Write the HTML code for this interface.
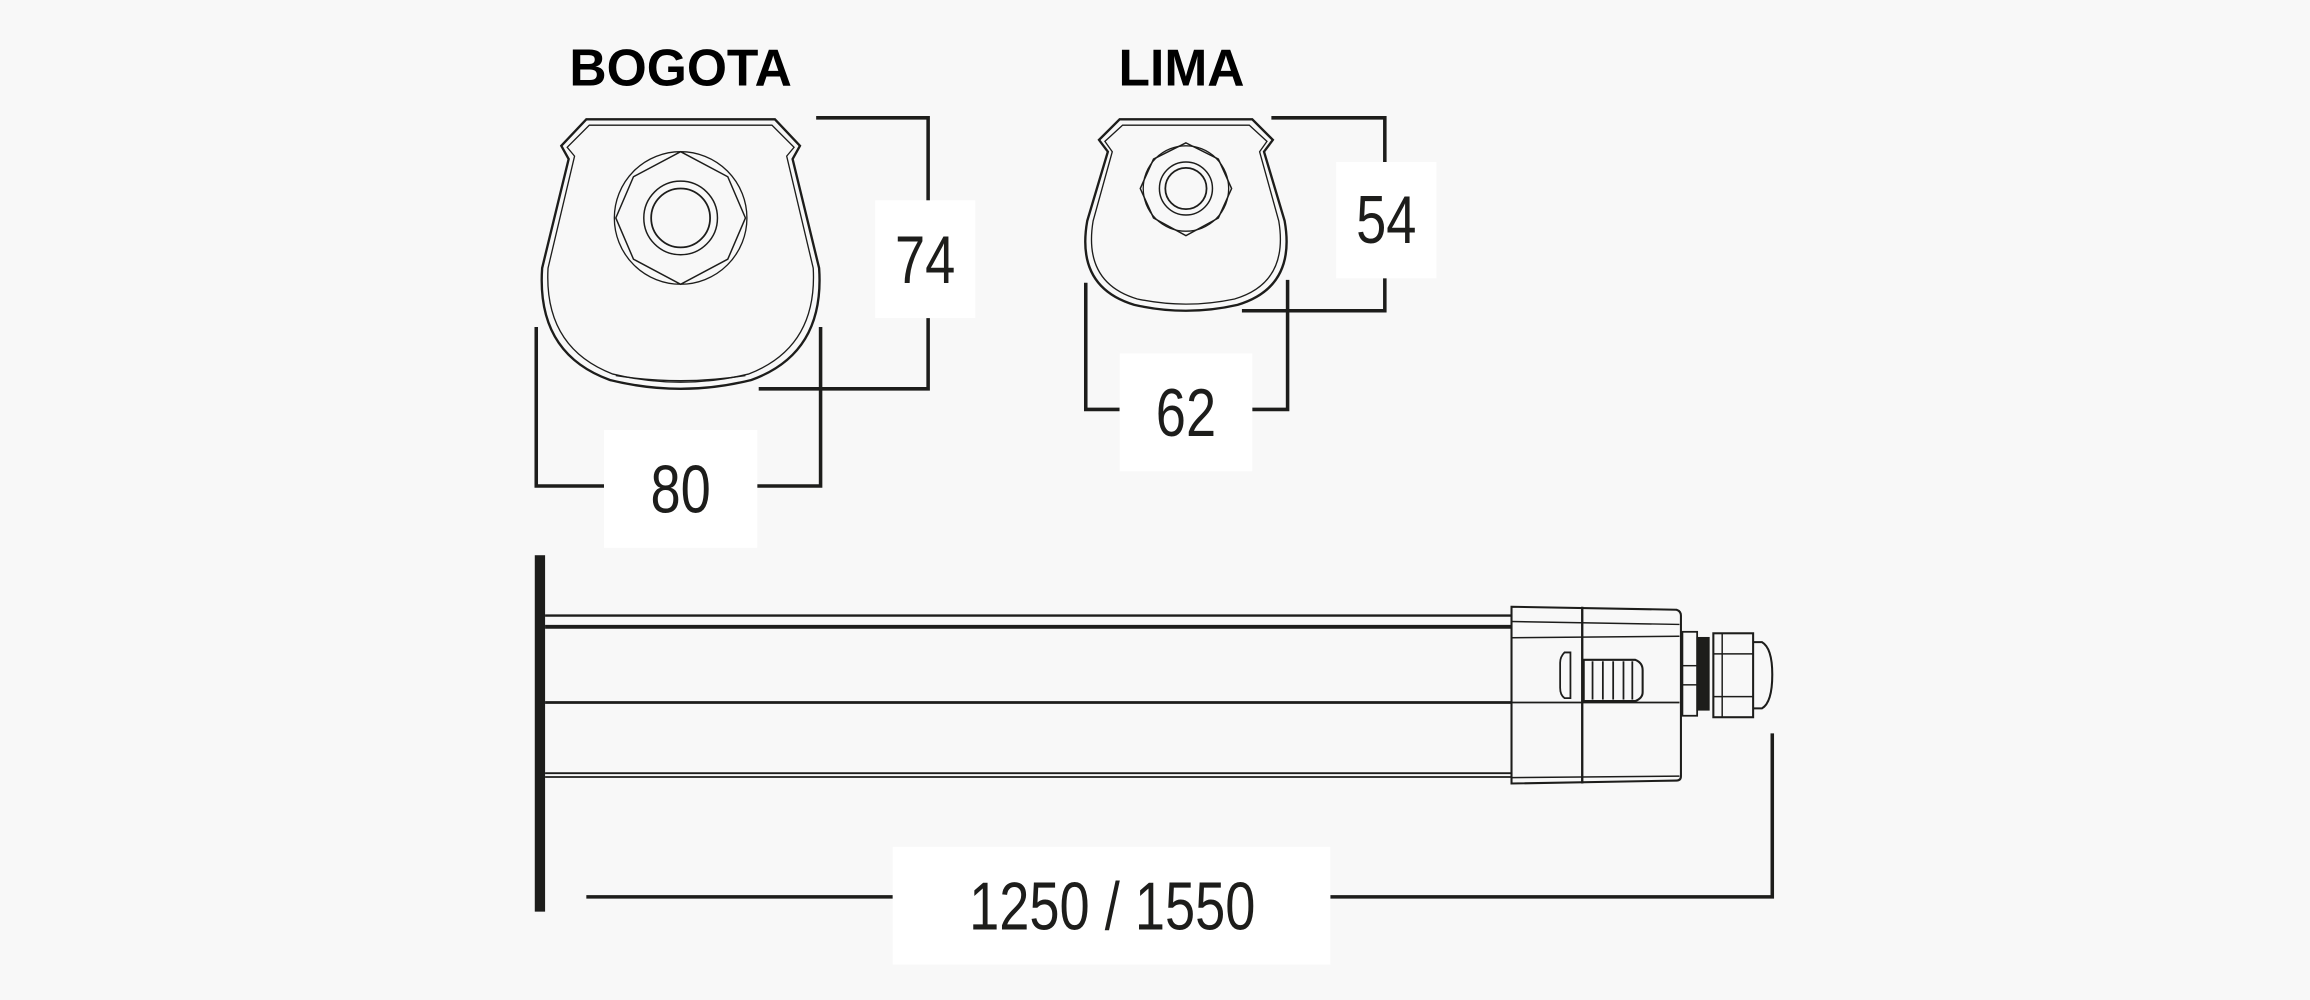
<!DOCTYPE html>
<html><head><meta charset="utf-8"><style>
html,body{margin:0;padding:0;background:#f8f8f8;}
svg{display:block}
.n{font-family:"Liberation Sans",sans-serif;fill:#1d1d1b;font-size:46px;text-anchor:middle}
.t{font-family:"Liberation Sans",sans-serif;font-weight:bold;fill:#000;font-size:35px;text-anchor:middle}
</style></head><body>
<svg width="2310" height="1000" viewBox="0 0 1568 679" preserveAspectRatio="none" xmlns="http://www.w3.org/2000/svg">
<rect width="1568" height="679" fill="#f8f8f8"/>
<text class="t" x="462" y="58">BOGOTA</text>
<text class="t" x="802" y="58">LIMA</text>
<g fill="none" stroke="#1d1d1b">
<path d="M398,81 L526,81 L543,99 L538,108 L556,182 Q560,240 510,258 Q462,270 414,258 Q364,240 368,182 L386,108 L381,99 Z" stroke-width="1.6"/>
<path d="M400,85 L524,85 L539,100 L534,106 L552,182 Q555,236 508,254 Q462,265 416,254 Q369,236 372,182 L390,106 L385,100 Z" stroke-width="0.9"/>
<path d="M418,255 Q462,262 506,255" stroke-width="0.9"/>
<polygon points="462,103 494,120 506,148 494,176 462,193 430,176 418,148 430,120" stroke-width="1"/>
<circle cx="462" cy="148" r="45" stroke-width="0.9"/>
<circle cx="462" cy="148" r="25" stroke-width="1"/>
<circle cx="462" cy="148" r="20" stroke-width="1.2"/>
<path d="M760,81 L850,81 L864,95 L858,103 L872,150 Q880,195 840,207 Q805,215 770,207 Q730,195 738,150 L752,103 L746,95 Z" stroke-width="1.6"/>
<path d="M762,85 L848,85 L860,96 L855,103 L868,150 Q875,192 838,203 Q805,210 772,203 Q735,192 742,150 L755,103 L750,96 Z" stroke-width="0.9"/>
<polygon points="805,97 827,108 836,128 827,148 805,160 783,148 774,128 783,108" stroke-width="1"/>
<circle cx="805" cy="128" r="29" stroke-width="0.9"/>
<circle cx="805" cy="128" r="18" stroke-width="1"/>
<circle cx="805" cy="128" r="14" stroke-width="1.2"/>
<g stroke-width="2.4">
<polyline points="554,80 630,80 630,264 515,264"/>
<polyline points="364,222 364,330 410,330"/>
<polyline points="557,222 557,330 514,330"/>
<polyline points="863,80 940,80 940,211 843,211"/>
<polyline points="737,192 737,278 760,278"/>
<polyline points="874,190 874,278 850,278"/>
<polyline points="398,609 606,609"/>
<polyline points="903,609 1203,609 1203,498"/>
</g>
</g>
<g fill="#fff">
<rect x="594" y="136" width="68" height="80"/>
<rect x="410" y="292" width="104" height="80"/>
<rect x="907" y="110" width="68" height="79"/>
<rect x="760" y="240" width="90" height="80"/>
<rect x="606" y="575" width="297" height="80"/>
</g>
<text class="n" transform="translate(628,192) scale(0.8,1)">74</text>
<text class="n" transform="translate(462,348) scale(0.8,1)">80</text>
<text class="n" transform="translate(941,165) scale(0.8,1)">54</text>
<text class="n" transform="translate(805,296) scale(0.8,1)">62</text>
<text class="n" transform="translate(755,631) scale(0.8,1)">1250 / 1550</text>
<rect x="363" y="377" width="7" height="242" fill="#1d1d1b"/>
<g stroke="#1d1d1b" fill="none">
<line x1="370" y1="418" x2="1026" y2="418" stroke-width="1.6"/>
<line x1="370" y1="425.6" x2="1026" y2="425.6" stroke-width="2.6"/>
<line x1="370" y1="477" x2="1026" y2="477" stroke-width="1.8"/>
<line x1="370" y1="525" x2="1026" y2="525" stroke-width="1.2"/>
<line x1="370" y1="527.6" x2="1026" y2="527.6" stroke-width="1.2"/>
<path d="M1026,412 L1138,414 Q1141,415 1141,418 L1141,527 Q1141,530 1138,530 L1026,532 Z" stroke-width="1.4"/>
<line x1="1026" y1="422" x2="1140" y2="424" stroke-width="1"/>
<line x1="1026" y1="433" x2="1140" y2="432" stroke-width="1"/>
<line x1="1026" y1="477" x2="1140" y2="477" stroke-width="1.2"/>
<line x1="1026" y1="528" x2="1140" y2="527" stroke-width="1"/>
<line x1="1074" y1="412" x2="1074" y2="532" stroke-width="1.6"/>
<path d="M1066,443 L1062,443 Q1059,446 1059,450 L1059,467 Q1059,472 1062,474 L1066,474 Z" stroke-width="1.2"/>
<path d="M1075,448 L1110,448 Q1115,450 1115,455 L1115,470 Q1115,474 1110,476 L1075,476 Z" stroke-width="1.4"/>
<g stroke-width="1.2"><line x1="1081" y1="449" x2="1081" y2="475"/><line x1="1088" y1="449" x2="1088" y2="475"/><line x1="1095" y1="449" x2="1095" y2="475"/><line x1="1102" y1="449" x2="1102" y2="475"/><line x1="1108" y1="449" x2="1108" y2="475"/></g>
<rect x="1142" y="429" width="10" height="57" stroke-width="1.2"/>
<line x1="1142" y1="452" x2="1152" y2="452" stroke-width="1"/>
<line x1="1142" y1="465" x2="1152" y2="465" stroke-width="1"/>
<rect x="1152" y="433" width="8" height="49" fill="#1d1d1b"/>
<rect x="1163" y="430" width="27" height="57" stroke-width="1.4"/>
<line x1="1163" y1="444" x2="1190" y2="444" stroke-width="1"/>
<line x1="1163" y1="473" x2="1190" y2="473" stroke-width="1"/>
<line x1="1169" y1="430" x2="1169" y2="487" stroke-width="1"/>
<path d="M1190,436 L1196,436 Q1203,440 1203,458 Q1203,477 1196,481 L1190,481" stroke-width="1.4"/>
</g>
</svg>
</body></html>
